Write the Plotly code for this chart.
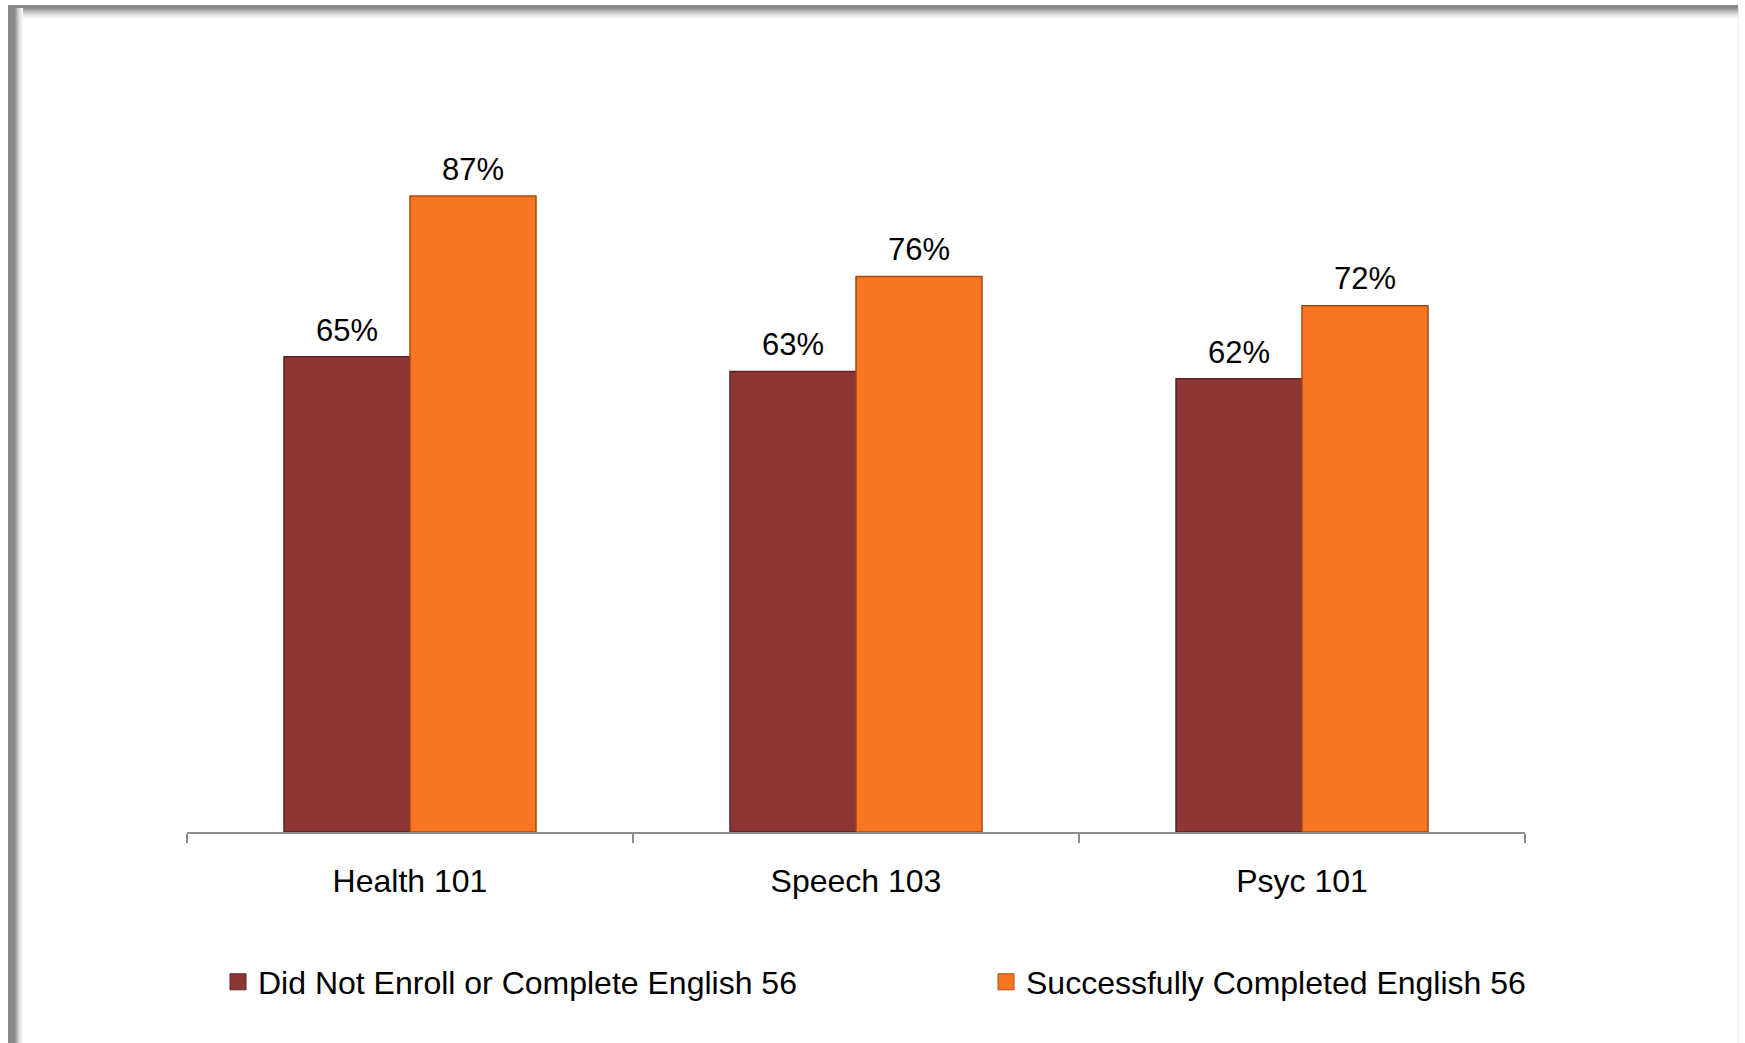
import plotly.graph_objects as go

categories = ["Health 101", "Speech 103", "Psyc 101"]
did_not = [0.65, 0.63, 0.62]
completed = [0.87, 0.76, 0.72]
series_names = ["Did Not Enroll or Complete English 56", "Successfully Completed English 56"]

W, H = 1745, 1043
ML, MR, MT, MB = 187, 220, 101, 211
FONT = "Arial, Liberation Sans, sans-serif"
GAP = 0.435
colors = ["#8C3636", "#F87522"]
edges = ["#5E2222", "#A84A10"]
legend_ids = ["legend", "legend2"]

fig = go.Figure()
for i, vals in enumerate([did_not, completed]):
    fig.add_trace(go.Bar(
        x=categories, y=vals, name=series_names[i],
        marker=dict(color=colors[i], line=dict(color=edges[i], width=1.5)),
        offsetgroup=str(i), legendgroup=str(i), showlegend=False,
        hoverinfo="x+y",
    ))
# value labels, grouped like the bars
for i, vals in enumerate([did_not, completed]):
    fig.add_trace(go.Scatter(
        x=categories, y=vals, mode="markers+text",
        marker=dict(size=12, opacity=0, color=colors[i]),
        texttemplate="%{y:.0%}", textposition="top center",
        textfont=dict(size=31, color="#000000", family=FONT),
        offsetgroup=str(i), alignmentgroup="lbl",
        showlegend=False, hoverinfo="skip", cliponaxis=False,
    ))
# legend entries (larger square swatches)
for i in range(2):
    fig.add_trace(go.Scatter(
        x=[None], y=[None], mode="markers", name=series_names[i],
        marker=dict(symbol="square", size=16, color=colors[i], line=dict(color=edges[i], width=1)),
        legendgroup=str(i), legend=legend_ids[i], showlegend=True,
    ))

# frame shapes (pixel -> paper conversion)
pw, ph = W - ML - MR, H - MT - MB
def px(x):
    return (x - ML) / pw
def py(y):
    return 1 - (y - MT) / ph

shapes = []
left_cols = ["#8a8a8a"] * 7 + ["#9a9a9a", "#acacac", "#bdbdbd", "#cecece", "#dcdcdc", "#e8e8e8", "#f1f1f1", "#f8f8f8"]
for i, c in enumerate(left_cols):
    x = 8.5 + i
    shapes.append(dict(type="line", xref="paper", yref="paper", x0=px(x), x1=px(x),
                       y0=py(5 + min(i, 3)), y1=py(H + 5), line=dict(color=c, width=1), layer="above"))
top_cols = ["#8a8a8a"] * 3 + ["#959595", "#a2a2a2", "#afafaf", "#bcbcbc", "#c8c8c8", "#d4d4d4", "#dfdfdf", "#e8e8e8", "#f0f0f0", "#f6f6f6", "#fafafa"]
for i, c in enumerate(top_cols):
    y = 5.5 + i
    shapes.append(dict(type="line", xref="paper", yref="paper", x0=px(8 + min(i, 7)), x1=px(1738),
                       y0=py(y), y1=py(y), line=dict(color=c, width=1), layer="below"))
shapes.append(dict(type="line", xref="paper", yref="paper", x0=px(1738.5), x1=px(1738.5),
                   y0=py(5), y1=py(H + 5), line=dict(color="#ededed", width=1), layer="below"))

fig.update_layout(
    width=W, height=H,
    margin=dict(l=ML, r=MR, t=MT, b=MB),
    paper_bgcolor="white", plot_bgcolor="white",
    font=dict(family=FONT, size=32, color="#000000"),
    barmode="group", bargap=GAP, bargroupgap=0.0,
    scattermode="group", scattergap=GAP,
    xaxis=dict(
        showline=True, linecolor="#8c8c8c", linewidth=1.5,
        ticks="outside", tickson="boundaries", ticklen=9, tickcolor="#8c8c8c", tickwidth=1.5,
        tickfont=dict(size=32, family=FONT, color="#000000"),
        ticklabelstandoff=20, showgrid=False, zeroline=False,
    ),
    yaxis=dict(range=[0, 1], visible=False, showgrid=False),
    showlegend=True,
    legend=dict(orientation="h", xref="container", yref="container",
                x=218 / W, y=1 - 982 / H, xanchor="left", yanchor="middle",
                font=dict(size=32, family=FONT, color="#000000"), bgcolor="rgba(0,0,0,0)"),
    legend2=dict(orientation="h", xref="container", yref="container",
                 x=986 / W, y=1 - 982 / H, xanchor="left", yanchor="middle",
                 font=dict(size=32, family=FONT, color="#000000"), bgcolor="rgba(0,0,0,0)"),
    shapes=shapes,
)

fig.write_html("out.html", config={"displayModeBar": False},
               post_script="document.body.style.margin='0';document.body.style.overflow='hidden';")
